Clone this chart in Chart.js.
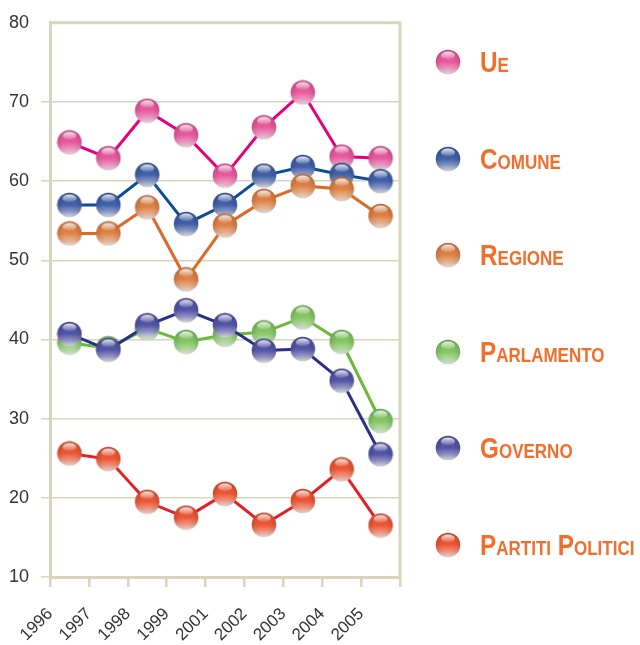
<!DOCTYPE html>
<html><head><meta charset="utf-8">
<script src="https://cdn.jsdelivr.net/npm/chart.js@4.4.1/dist/chart.umd.min.js"></script>
<style>
html,body{margin:0;padding:0;background:#fff;}
#wrap{position:relative;width:640px;height:645px;}
#legend{position:absolute;left:0;top:0;width:640px;height:645px;pointer-events:none;}
.item{position:absolute;left:435px;height:30px;display:flex;align-items:center;}
.item span{margin-left:19px;font-family:'Liberation Sans',Arial,sans-serif;font-weight:bold;font-variant:small-caps;font-size:30px;color:#f36d2b;line-height:30px;white-space:nowrap;display:inline-block;transform:scaleX(0.81);transform-origin:0 50%;}
</style></head>
<body><div id="wrap"><canvas id="c" width="640" height="645"></canvas><div id="legend"></div></div>
<script>
const years = ['1996','1997','1998','1999','2001','2002','2003','2004','2005'];
const seriesNames = ['Ue','Comune','Regione','Parlamento','Governo','Partiti Politici'];
const ue         = [64.9, 62.9, 68.9, 65.8, 60.7, 66.8, 71.2, 63.1, 62.9];
const comune     = [57.0, 57.0, 60.8, 54.6, 57.0, 60.7, 61.8, 60.8, 60.0];
const regione    = [53.4, 53.4, 56.7, 47.6, 54.4, 57.5, 59.4, 59.0, 55.6];
const parlamento = [39.6, 38.9, 41.4, 39.7, 40.6, 40.9, 42.8, 39.7, 29.7];
const governo    = [40.7, 38.7, 41.8, 43.7, 41.8, 38.6, 38.8, 34.8, 25.5];
const partiti    = [25.6, 24.9, 19.5, 17.5, 20.5, 16.6, 19.6, 23.6, 16.5];
const yTicks = [10, 20, 30, 40, 50, 60, 70, 80];

const lineColors   = ['#e4007d','#0d4e97','#dc6b27','#6ab93b','#2b2f8c','#e61e25'];
const sphereColors = ['#e95a9e','#4261a8','#df8247','#84c763','#5456a8','#ee5736'];
const beige = '#d9d5bd';

function hexToRgb(h){h=h.replace('#','');return [0,2,4].map(i=>parseInt(h.substr(i,2),16));}
function mixWhite(h,t){const c=hexToRgb(h);return 'rgb('+c.map(v=>Math.round(v+(255-v)*t)).join(',')+')';}
function darken(h,t){const c=hexToRgb(h);return 'rgb('+c.map(v=>Math.round(v*(1-t))).join(',')+')';}
function sphere(hex){
  const s=26,c=document.createElement('canvas');c.width=s;c.height=s;
  const g=c.getContext('2d');const r=12.3,cx=13,cy=13;
  const lg=g.createLinearGradient(0,cy-r,0,cy+r);
  lg.addColorStop(0,darken(hex,0.1));
  lg.addColorStop(0.5,hex);
  lg.addColorStop(0.75,mixWhite(hex,0.35));
  lg.addColorStop(1,mixWhite(hex,0.9));
  g.beginPath();g.arc(cx,cy,r,0,Math.PI*2);g.fillStyle=lg;g.fill();
  const rg=g.createRadialGradient(cx,cy-1,6,cx,cy,r);
  rg.addColorStop(0,'rgba(0,0,0,0)');rg.addColorStop(1,'rgba(0,0,0,0.12)');
  g.fillStyle=rg;g.fill();
  g.beginPath();g.ellipse(cx,cy-6.6,7,3.8,0,0,Math.PI*2);
  const hg=g.createLinearGradient(0,cy-10.5,0,cy-2.8);
  hg.addColorStop(0,'rgba(255,255,255,0.85)');hg.addColorStop(1,'rgba(255,255,255,0.1)');
  g.fillStyle=hg;g.fill();
  return c;
}

const allValues = [ue, comune, regione, parlamento, governo, partiti];
const datasets = allValues.map((vals,k)=>({
  label: seriesNames[k],
  data: vals.map((v,i)=>({x:i+0.5,y:v})),
  borderColor: lineColors[k],
  backgroundColor: sphereColors[k],
  borderWidth: 3,
  pointStyle: sphere(sphereColors[k]),
  pointRadius: 12,
  order: allValues.length - k
}));

const framePlugin = {
  id:'frame',
  afterDraw(chart){
    const a=chart.chartArea,ctx=chart.ctx;
    ctx.save();ctx.strokeStyle=beige;ctx.lineWidth=3;
    ctx.beginPath();
    ctx.moveTo(a.left,a.top);ctx.lineTo(a.right,a.top);ctx.lineTo(a.right,a.bottom);
    ctx.stroke();ctx.restore();
  }
};
const htmlLegend = {
  id:'htmlLegend',
  afterUpdate(chart){
    const box=document.getElementById('legend');box.innerHTML='';
    chart.data.datasets.forEach((ds,i)=>{
      const row=document.createElement('div');row.className='item';
      row.style.top=(62+i*96.5-15)+'px';
      const img=ds.pointStyle.cloneNode();img.getContext('2d').drawImage(ds.pointStyle,0,0);
      img.style.display='block';
      row.appendChild(img);
      const sp=document.createElement('span');sp.textContent=ds.label;
      row.appendChild(sp);box.appendChild(row);
    });
  }
};

new Chart(document.getElementById('c'),{
  type:'line',
  data:{datasets},
  options:{
    responsive:false,animation:false,
    layout:{padding:{top:20,right:240,left:0,bottom:0}},
    plugins:{legend:{display:false},tooltip:{enabled:false}},
    scales:{
      x:{type:'linear',min:0,max:9,
        afterFit(s){s.height=68;},
        ticks:{stepSize:1,autoSkip:false,minRotation:45,maxRotation:45,padding:17,
          color:'#333',font:{family:"'Liberation Sans',Arial,sans-serif",size:17},
          callback:(v)=>years[v]!==undefined?years[v]:''},
        grid:{drawOnChartArea:false,color:beige,lineWidth:2.5,tickLength:10},
        border:{color:beige,width:3}},
      y:{min:10,max:80,
        afterFit(s){s.width=50;},
        afterBuildTicks(s){s.ticks=yTicks.map(v=>({value:v}));},
        ticks:{padding:12,color:'#333',font:{family:"'Liberation Sans',Arial,sans-serif",size:18}},
        grid:{color:(c)=>c.tick&&c.tick.value===80?'rgba(0,0,0,0)':beige,lineWidth:1.5,tickLength:9},
        border:{color:beige,width:3}}
    }
  },
  plugins:[framePlugin,htmlLegend]
});
</script></body></html>
